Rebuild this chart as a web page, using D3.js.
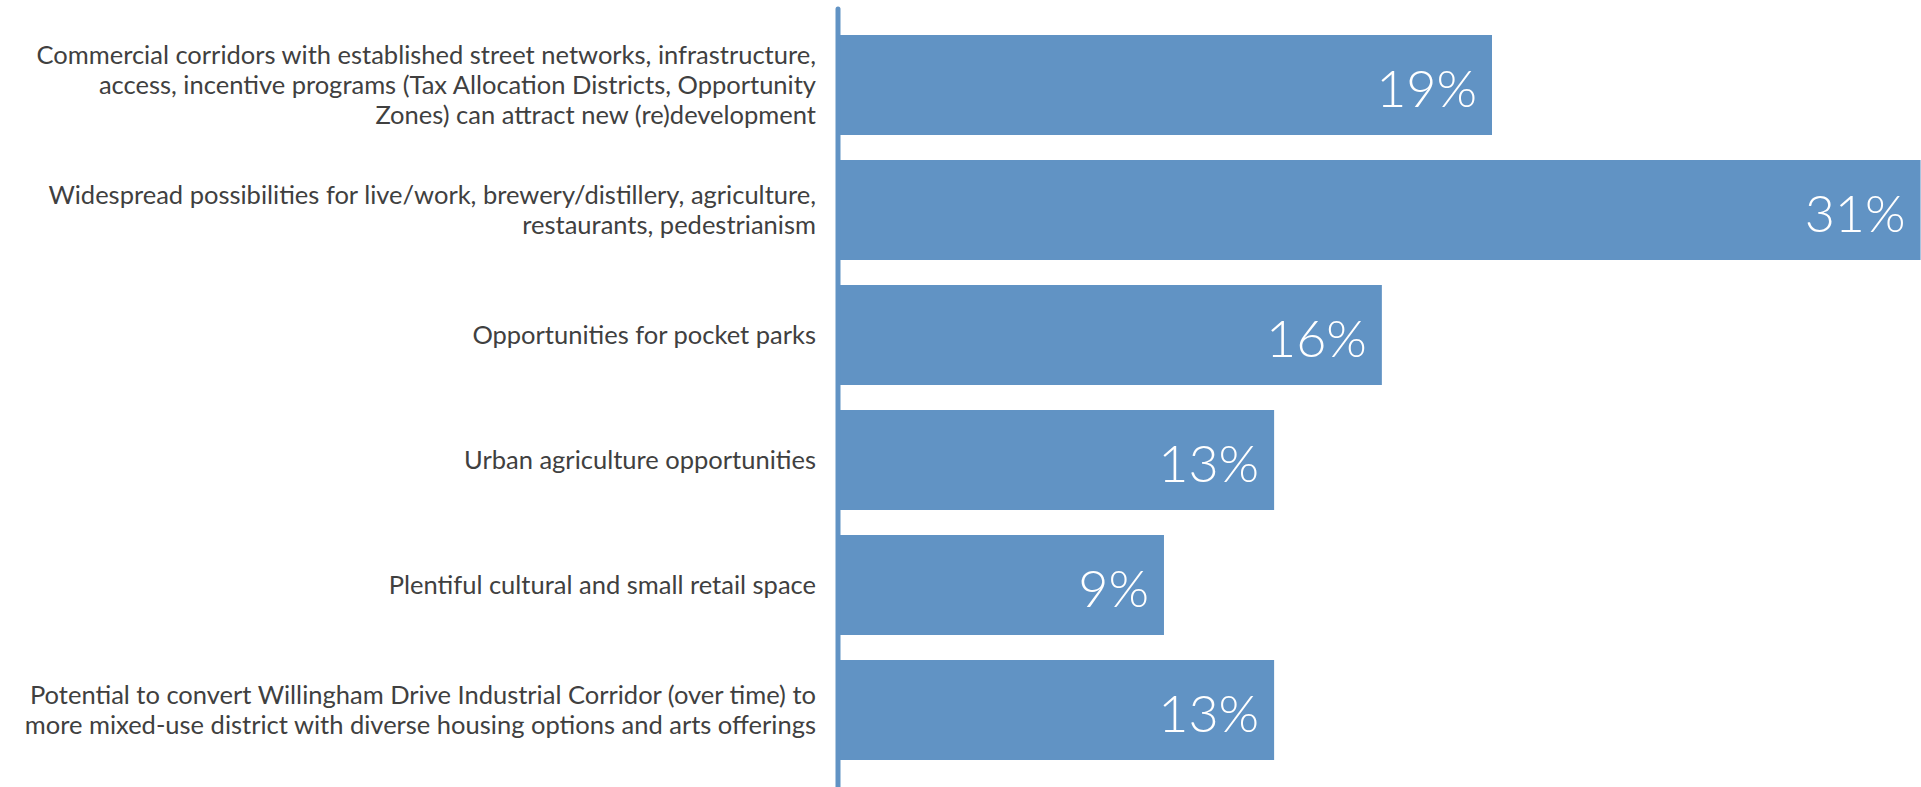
<!DOCTYPE html>
<html>
<head>
<meta charset="utf-8">
<script src="https://cdn.jsdelivr.net/npm/d3@7"></script>
<style>
  html, body { margin: 0; padding: 0; background: #ffffff; overflow: hidden; }
  svg { display: block; }
</style>
</head>
<body>
<svg id="chart" width="1921" height="787"></svg>
<script>
// ---- data ----
const categories = [
  ["Commercial corridors with established street networks, infrastructure,",
   "access, incentive programs (Tax Allocation Districts, Opportunity",
   "Zones) can attract new (re)development"],
  ["Widespread possibilities for live/work, brewery/distillery, agriculture,",
   "restaurants, pedestrianism"],
  ["Opportunities for pocket parks"],
  ["Urban agriculture opportunities"],
  ["Plentiful cultural and small retail space"],
  ["Potential to convert Willingham Drive Industrial Corridor (over time) to",
   "more mixed-use district with diverse housing options and arts offerings"]
];
const values = [0.1900, 0.3145, 0.1580, 0.1267, 0.0947, 0.1267];

// ---- layout ----
const W = 1921, H = 787;
const x0 = 838;
const svg = d3.select("#chart");
const barColor = "#6193c4";

const keys = categories.map((d, i) => i);
const y = d3.scaleBand().domain(keys).range([22.5, 772.5]).paddingInner(0.2).paddingOuter(0.1);
const x = d3.scaleLinear().domain([0, 0.19]).range([x0, 1492]);
const fmt = d3.format(".0%");

// bars
svg.append("g").selectAll("rect").data(values).join("rect")
  .attr("x", x(0))
  .attr("y", (d, i) => y(i))
  .attr("width", d => x(d) - x(0))
  .attr("height", y.bandwidth())
  .attr("fill", barColor);

// axis (left) - line only, custom labels
const axis = svg.append("g").attr("transform", `translate(${x0},0)`)
  .call(d3.axisLeft(y).tickSize(0).tickFormat(""));
axis.select(".domain").remove();
svg.append("line")
  .attr("x1", x0).attr("x2", x0).attr("y1", 9).attr("y2", H + 5)
  .attr("stroke", barColor).attr("stroke-width", 5).attr("stroke-linecap", "round");

// category labels
const lh = 30;
const lab = svg.append("g").attr("font-family", "Lato, 'Open Sans', sans-serif")
  .attr("font-size", 25.5).attr("fill", "#404040").attr("text-anchor", "end");
categories.forEach((lines, i) => {
  const cy = y(i) + y.bandwidth() / 2 - 1;
  const n = lines.length;
  const t = lab.append("text").attr("dominant-baseline", "central");
  lines.forEach((s, j) => {
    t.append("tspan").attr("x", 816).attr("y", cy + (j - (n - 1) / 2) * lh).text(s);
  });
});

// value labels
svg.append("g").selectAll("text").data(values).join("text")
  .attr("x", d => Math.min(x(d), W) - 15)
  .attr("y", (d, i) => y(i) + y.bandwidth() / 2 + 2)
  .attr("text-anchor", "end")
  .attr("dominant-baseline", "central")
  .attr("font-family", "Lato, 'Open Sans', sans-serif")
  .attr("font-weight", 300)
  .attr("font-size", 52)
  .attr("fill", "#ffffff")
  .text(d => fmt(d));
</script>
</body>
</html>
